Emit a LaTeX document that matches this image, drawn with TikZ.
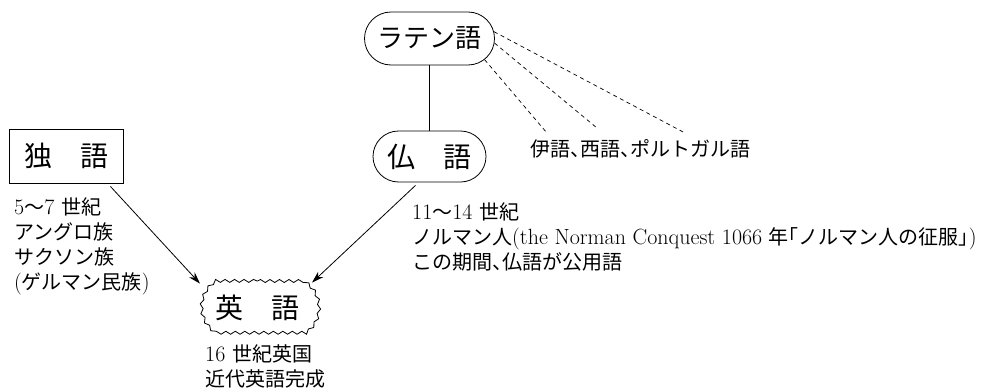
\documentclass[tikz,border=0pt]{standalone}
\usepackage{fontspec}
\newfontfamily\jp{Noto Sans CJK JP}
\usetikzlibrary{shapes.misc,arrows.meta,decorations.pathmorphing}
\newcommand{\J}[1]{{\fontsize{20}{25}\selectfont\jp #1}}
\newcommand{\hwl}[1]{\makebox[0.5em][l]{#1}}
\newcommand{\hwr}[1]{\makebox[0.5em][r]{#1}}
\begin{document}
\begin{tikzpicture}[x=1pt,y=-1pt,
  every node/.style={inner sep=0pt},
  big/.style={font=\fontsize{28}{28}\selectfont\jp, draw, line width=0.8pt},
  txt/.style={anchor=base west, font=\fontsize{22}{25}\selectfont},
  link/.style={line width=0.8pt},
  dsh/.style={line width=0.7pt, dash pattern=on 4pt off 3.5pt},
  arr/.style={line width=0.8pt, -{Stealth[length=12pt,width=7.5pt]}}]
\useasboundingbox (0,0) rectangle (999,391);
% main nodes
\node[big, rounded rectangle, minimum width=130pt, minimum height=53pt,
      font=\fontsize{26}{26}\selectfont\jp] (lat) at (429.5,38.5) {ラテン語};
\node[big, rounded rectangle, minimum width=113pt, minimum height=51pt] (fr) at (429.5,156.5) {仏　語};
\node[big, rectangle, minimum width=114pt, minimum height=54pt] (de) at (66,156) {独　語};
\node[big, rounded rectangle, rounded rectangle arc length=120,
      minimum width=117pt, minimum height=53pt,
      decorate, decoration={snake, segment length=9.5pt, amplitude=1.5pt}] (en) at (257.5,307.5) {英　語};
% label of the dashed lines
\node[txt] (it) at (530,156) {\J{伊語\hwl{、}西語\hwl{、}ポルトガル語}};
\coordinate (d1) at (685,133);
\coordinate (d2) at (597,128);
\coordinate (d3) at (547,133);
% connectors
\draw[link] (lat.south) -- (fr.north);
\draw[dsh] (lat.6) -- (d1);
\draw[dsh] (lat.-4) -- (d2);
\draw[dsh] (lat.-21) -- (d3);
\draw[arr] ([shift={(-13,3)}]de.south east) -- ([shift={(-57.5,3)}]en.north);
\draw[arr] ([shift={(-14,3)}]fr.south) -- ([shift={(54.5,2)}]en.north);
% left text
\node[txt] (a1) at (14,214) {5\J{〜}7 \J{世紀}};
\node[txt] (a2) at (14,239) {\J{アングロ族}};
\node[txt] (a3) at (14,264) {\J{サクソン族}};
\node[txt] (a4) at (14,289) {(\J{ゲルマン民族})};
% right text
\node[txt] (b1) at (412,219) {11\J{〜}14 \J{世紀}};
\node[txt] (b2) at (412,244) {\J{ノルマン人}(the Norman Conquest 1066 \J{年\hwr{「}ノルマン人の征服\hwl{」}})};
\node[txt] (b3) at (412,269) {\J{この期間\hwl{、}仏語が公用語}};
% bottom text
\node[txt] (c1) at (205,361) {16 \J{世紀英国}};
\node[txt] (c2) at (205,386) {\J{近代英語完成}};
\end{tikzpicture}
\end{document}
